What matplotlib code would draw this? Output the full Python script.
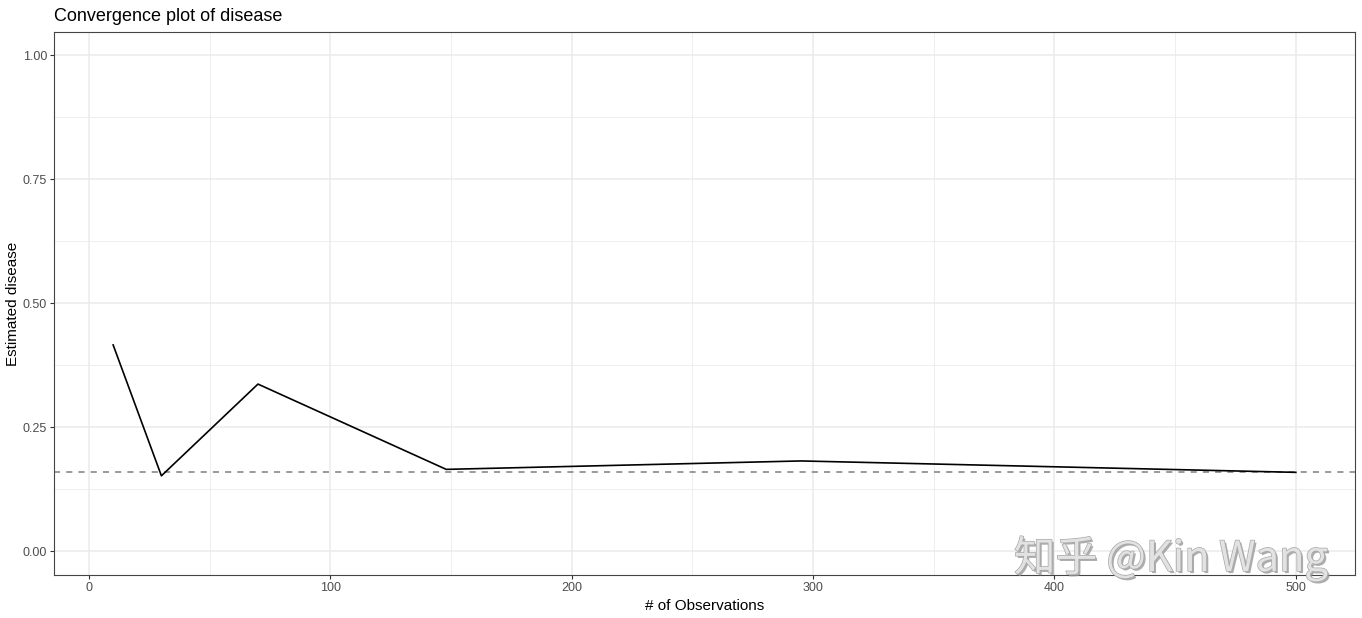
import matplotlib
matplotlib.use('Agg')
from matplotlib import pyplot as plt
from matplotlib.ticker import MultipleLocator
import matplotlib.patheffects as pe

# datos
observaciones = [10, 30, 70, 148, 295, 500]
estimado = [0.416, 0.152, 0.337, 0.165, 0.182, 0.159]
valor_real = 0.159

plt.rcParams['font.family'] = ['Liberation Sans', 'DejaVu Sans']

fig = plt.figure(figsize=(13.62, 6.18), dpi=100)
ax = fig.add_axes([54 / 1362, 43 / 618, 1301 / 1362, 543 / 618])

ax.set_xlim(-14.5, 524.5)
ax.set_ylim(-0.048, 1.047)
ax.xaxis.set_major_locator(MultipleLocator(100))
ax.xaxis.set_minor_locator(MultipleLocator(50))
ax.yaxis.set_major_locator(MultipleLocator(0.25))
ax.yaxis.set_minor_locator(MultipleLocator(0.125))
ax.yaxis.set_major_formatter(plt.FuncFormatter(lambda v, p: '%.2f' % v))

ax.grid(which='major', color='#EBEBEB', linewidth=1.1)
ax.grid(which='minor', color='#EBEBEB', linewidth=0.6)
ax.set_axisbelow(True)
for s in ax.spines.values():
    s.set_color('#444444')
    s.set_linewidth(0.8)
ax.tick_params(which='major', length=3, width=0.8, color='#333333',
               labelsize=9, labelcolor='#4D4D4D', pad=2)
ax.tick_params(which='minor', length=0)

ax.axhline(valor_real, color='#7F7F7F', linestyle=(0, (4, 4)), linewidth=1.1)
ax.plot(observaciones, estimado, color='black', linewidth=1.2)

ax.set_xlabel('# of Observations', fontsize=11, labelpad=4)
ax.set_ylabel('Estimated disease', fontsize=11, va='center')
ax.yaxis.set_label_coords(-0.0315, 0.5)
ax.set_title('Convergence plot of disease', fontsize=13, loc='left', pad=8)

# marca de agua
fig.text(0.975, 0.076, '知乎 @Kin Wang', ha='right', va='baseline',
         fontsize=30, color='#E2E2E2', fontweight='light',
         family=['Noto Sans CJK SC', 'DejaVu Sans'],
         path_effects=[pe.withSimplePatchShadow(offset=(1.5, -1.5), shadow_rgbFace='#999999', alpha=0.8),
                       pe.withStroke(linewidth=1.0, foreground='#A8A8A8')])

fig.savefig('out.png', dpi=100)
